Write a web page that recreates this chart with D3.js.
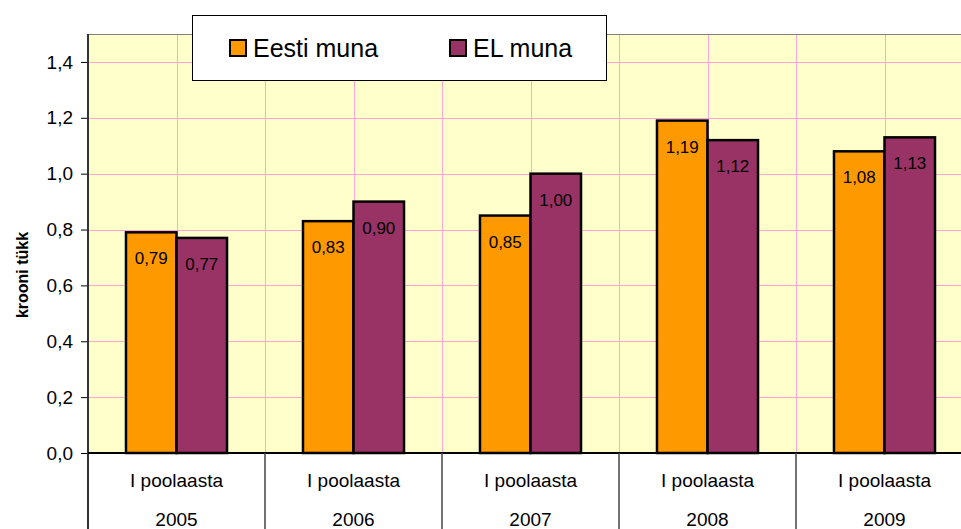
<!DOCTYPE html>
<html>
<head>
<meta charset="utf-8">
<script src="https://cdn.jsdelivr.net/npm/d3@7"></script>
<style>
  body { margin: 0; background: #fff; }
  svg { display: block; font-family: "Liberation Sans", Arial, sans-serif; }
</style>
</head>
<body>
<div id="chart"></div>
<script>
// Chart data
var years = ['2005', '2006', '2007', '2008', '2009'];
var periods = ['I poolaasta', 'I poolaasta', 'I poolaasta', 'I poolaasta', 'I poolaasta'];
var seriesNames = ['Eesti muna', 'EL muna'];
var eestiMuna = [0.79, 0.83, 0.85, 1.19, 1.08];
var elMuna = [0.77, 0.90, 1.00, 1.12, 1.13];
var yTicks = [0, 0.2, 0.4, 0.6, 0.8, 1.0, 1.2, 1.4];

var svgWidth = 961;
var svgHeight = 529;
var colors = ['#FF9900', '#993366'];

// plot area (right edge runs past the window like in the original)
var plotLeft = 88, plotTop = 34, plotBottom = 453, plotRight = 973;

var svg = d3.select('#chart')
    .append('svg')
    .attr('width', svgWidth)
    .attr('height', svgHeight);

var locale = d3.formatLocale({ decimal: ',', thousands: ' ', grouping: [3], currency: ['', ''] });
var fmt1 = locale.format('.1f');
var fmt2 = locale.format('.2f');

var x = d3.scaleBand()
    .domain(years)
    .range([plotLeft, plotRight])
    .padding(0);

var xSub = d3.scaleBand()
    .domain(seriesNames)
    .range([0, x.bandwidth()])
    .paddingInner(0)
    .paddingOuter(0.752);

var y = d3.scaleLinear()
    .domain([0, 1.5])
    .range([plotBottom, plotTop]);

// plot background
svg.append('rect')
    .attr('x', plotLeft)
    .attr('y', plotTop)
    .attr('width', plotRight - plotLeft)
    .attr('height', plotBottom - plotTop)
    .attr('fill', '#FFFFCC');

// gridlines
var grid = svg.append('g');
grid.selectAll('line.h')
    .data(yTicks.filter(d => d > 0))
    .enter()
    .append('line')
    .attr('x1', plotLeft)
    .attr('x2', plotRight)
    .attr('y1', d => Math.round(y(d)) + 0.5)
    .attr('y2', d => Math.round(y(d)) + 0.5)
    .attr('stroke', '#FFA6D2')
    .attr('stroke-width', 1);

var vLines = [];
years.forEach(yr => {
    vLines.push(x(yr));
    vLines.push(x(yr) + x.bandwidth() / 2);
});
grid.selectAll('line.v')
    .data(vLines.filter(d => d > plotLeft))
    .enter()
    .append('line')
    .attr('x1', d => Math.round(d) + 0.5)
    .attr('x2', d => Math.round(d) + 0.5)
    .attr('y1', plotTop)
    .attr('y2', plotBottom)
    .attr('stroke', '#FFA6D2')
    .attr('stroke-width', 1);

// top border
svg.append('line')
    .attr('x1', plotLeft)
    .attr('x2', plotRight)
    .attr('y1', plotTop + 0.5)
    .attr('y2', plotTop + 0.5)
    .attr('stroke', '#808080');

// bars
var rows = years.map((yr, i) => ({ year: yr, values: [eestiMuna[i], elMuna[i]] }));

var groups = svg.selectAll('g.group')
    .data(rows)
    .enter()
    .append('g')
    .attr('class', 'group')
    .attr('transform', d => `translate(${x(d.year)},0)`);

groups.selectAll('rect')
    .data(d => d.values.map((v, k) => ({ name: seriesNames[k], value: v, k: k })))
    .enter()
    .append('rect')
    .attr('x', d => xSub(d.name))
    .attr('y', d => y(d.value))
    .attr('width', xSub.bandwidth())
    .attr('height', d => plotBottom - y(d.value))
    .attr('fill', d => colors[d.k])
    .attr('stroke', '#000')
    .attr('stroke-width', 2.5);

groups.selectAll('text')
    .data(d => d.values.map((v, k) => ({ name: seriesNames[k], value: v })))
    .enter()
    .append('text')
    .attr('x', d => xSub(d.name) + xSub.bandwidth() / 2)
    .attr('y', d => y(d.value) + 32)
    .attr('text-anchor', 'middle')
    .style('font-size', '17px')
    .attr('fill', '#000')
    .text(d => fmt2(d.value));

// y axis
var yAxis = d3.axisLeft(y)
    .tickValues(yTicks)
    .tickFormat(fmt1)
    .tickSize(7)
    .tickPadding(8);

var yG = svg.append('g')
    .attr('transform', `translate(${plotLeft},0)`)
    .call(yAxis);
yG.select('.domain').remove();
yG.selectAll('line').attr('stroke', '#000');
yG.selectAll('text')
    .style('font-size', '19px')
    .style('font-family', '"Liberation Sans", Arial, sans-serif')
    .attr('fill', '#000');

// axis lines
svg.append('line')
    .attr('x1', plotLeft)
    .attr('x2', plotLeft)
    .attr('y1', plotTop)
    .attr('y2', svgHeight)
    .attr('stroke', '#333')
    .attr('stroke-width', 2);

svg.append('line')
    .attr('x1', plotLeft)
    .attr('x2', plotRight)
    .attr('y1', plotBottom)
    .attr('y2', plotBottom)
    .attr('stroke', '#000')
    .attr('stroke-width', 2);

// category separators below axis
svg.selectAll('line.sep')
    .data(years.slice(1))
    .enter()
    .append('line')
    .attr('class', 'sep')
    .attr('x1', d => x(d))
    .attr('x2', d => x(d))
    .attr('y1', plotBottom)
    .attr('y2', svgHeight)
    .attr('stroke', '#444')
    .attr('stroke-width', 1.5);

// category labels
svg.selectAll('text.period')
    .data(years)
    .enter()
    .append('text')
    .attr('class', 'period')
    .attr('x', d => x(d) + x.bandwidth() / 2)
    .attr('y', 487)
    .attr('text-anchor', 'middle')
    .style('font-size', '19px')
    .text((d, i) => periods[i]);

svg.selectAll('text.year')
    .data(years)
    .enter()
    .append('text')
    .attr('class', 'year')
    .attr('x', d => x(d) + x.bandwidth() / 2)
    .attr('y', 526)
    .attr('text-anchor', 'middle')
    .style('font-size', '19px')
    .text(d => d);

// y axis title
svg.append('text')
    .attr('transform', 'translate(28,275) rotate(-90)')
    .attr('text-anchor', 'middle')
    .style('font-size', '16px')
    .style('font-weight', 'bold')
    .text('krooni tükk');

// legend
var legend = svg.append('g');
legend.append('rect')
    .attr('x', 192.5)
    .attr('y', 15.5)
    .attr('width', 414)
    .attr('height', 65)
    .attr('fill', '#fff')
    .attr('stroke', '#000')
    .attr('stroke-width', 1);

var legendX = [230, 450];
seriesNames.forEach((name, i) => {
    legend.append('rect')
        .attr('x', legendX[i])
        .attr('y', 40)
        .attr('width', 16)
        .attr('height', 16)
        .attr('fill', colors[i])
        .attr('stroke', '#000')
        .attr('stroke-width', 2);
    legend.append('text')
        .attr('x', legendX[i] + 23)
        .attr('y', 57)
        .style('font-size', '25px')
        .text(name);
});
</script>
</body>
</html>
